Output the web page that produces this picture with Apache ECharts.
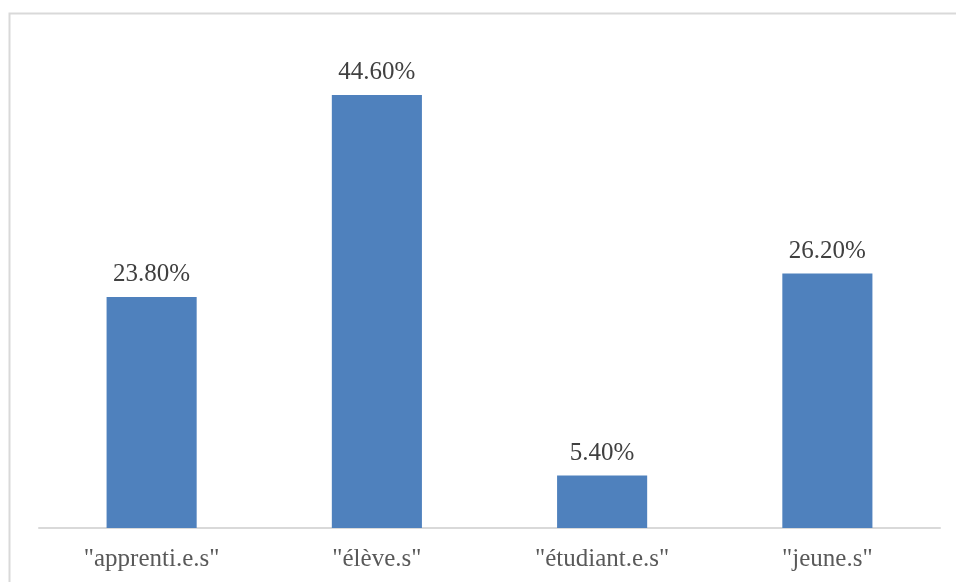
<!DOCTYPE html>
<html>
<head>
<meta charset="utf-8">
<script src="https://cdn.jsdelivr.net/npm/echarts@6/dist/echarts.min.js"></script>
<style>
  html, body { margin: 0; padding: 0; background: #fff; }
  #chart { width: 956px; height: 582px; }
</style>
</head>
<body>
<div id="chart"></div>
<script>
// Categories and their shares (in %)
const categories = ['"apprenti.e.s"', '"élève.s"', '"étudiant.e.s"', '"jeune.s"'];
const shares = [23.8, 44.6, 5.4, 26.2];

const chart = echarts.init(document.getElementById('chart'));
chart.setOption({
  backgroundColor: '#ffffff',
  animation: false,
  graphic: [{
    type: 'rect',
    shape: { x: 9.5, y: 13.5, width: 1000, height: 700 },
    style: { fill: 'none', stroke: '#d9d9d9', lineWidth: 2 },
    silent: true,
    z: -1
  }],
  grid: { left: 39, right: 16, top: 42.5, bottom: 54 },
  xAxis: {
    type: 'category',
    data: categories,
    axisLine: { lineStyle: { color: '#d9d9d9', width: 2 } },
    axisTick: { show: false },
    axisLabel: {
      color: '#595959',
      fontFamily: 'Liberation Serif',
      fontSize: 25,
      margin: 19
    }
  },
  yAxis: {
    type: 'value',
    min: 0,
    max: 50,
    interval: 10,
    show: false
  },
  series: [{
    type: 'bar',
    data: shares,
    barWidth: '40%',
    itemStyle: { color: '#4f81bd' },
    label: {
      show: true,
      position: 'top',
      distance: 10,
      color: '#404040',
      fontFamily: 'Liberation Serif',
      fontSize: 25,
      formatter: p => p.value.toFixed(2) + '%'
    }
  }]
});
</script>
</body>
</html>
